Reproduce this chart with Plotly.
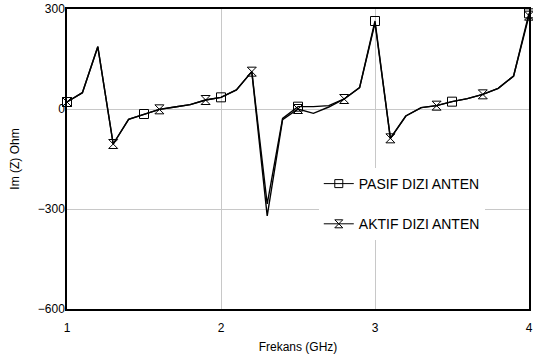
import plotly.graph_objects as go

freq = [1.0, 1.1, 1.2, 1.3, 1.4, 1.5, 1.6, 1.7, 1.8, 1.9, 2.0,
        2.1, 2.2, 2.3, 2.4, 2.5, 2.6, 2.7, 2.8, 2.9, 3.0,
        3.1, 3.2, 3.3, 3.4, 3.5, 3.6, 3.7, 3.8, 3.9, 4.0]
pasif = [21, 49, 187, -105, -31, -15, -1, 6, 13, 27, 35,
         57, 112, -285, -28, 7, 7, 10, 30, 64, 264,
         -88, -21, 4, 10, 22, 31, 44, 62, 99, 287]
aktif = [21, 49, 187, -105, -31, -15, -1, 6, 13, 27, 35,
         57, 112, -321, -32, 0, -13, 6, 30, 64, 258,
         -88, -21, 4, 10, 22, 31, 44, 62, 99, 280]
pasif_name = "PASIF DIZI ANTEN"
aktif_name = "AKTIF DIZI ANTEN"
x_ticks = [1, 2, 3, 4]
y_ticks = [300, 0, -300, -600]

pasif_marks = list(range(0, len(freq), 5))
aktif_marks = list(range(0, len(freq), 3))

fig = go.Figure()
for name, vals, marks, sym, grp in [
    (pasif_name, pasif, pasif_marks, "square-open", "a"),
    (aktif_name, aktif, aktif_marks, "hourglass-open", "b"),
]:
    fig.add_trace(go.Scatter(
        x=freq, y=vals, mode="lines", line=dict(color="black", width=1.4),
        showlegend=False, hoverinfo="skip", cliponaxis=False))
    fig.add_trace(go.Scatter(
        x=[freq[i] for i in marks], y=[vals[i] for i in marks],
        mode="markers", name=name, legendgroup=grp, cliponaxis=False,
        marker=dict(symbol=sym, size=9, color="black", line=dict(color="black", width=1)),
        showlegend=False))
    # legend proxy
    fig.add_trace(go.Scatter(
        x=[None], y=[None], mode="lines+markers", name=name, legendgroup=grp,
        line=dict(color="black", width=1),
        marker=dict(symbol=sym, size=8, color="black", line=dict(color="black", width=1))))

fig.update_layout(
    width=533, height=358,
    margin=dict(l=67, r=4, t=9, b=49),
    paper_bgcolor="white", plot_bgcolor="white",
    font=dict(family="Liberation Sans, Arial, sans-serif", size=12, color="black"),
    legend=dict(x=0.545, y=0.47, xanchor="left", yanchor="top",
                bgcolor="white", font=dict(size=14), tracegroupgap=19,
                itemwidth=30),
    xaxis=dict(range=[1, 4], tickvals=x_ticks, ticks="", showgrid=True,
               gridcolor="#c8c8c8", gridwidth=1, zeroline=False, automargin=False,
               ticklabelstandoff=7,
               showline=True, linecolor="black", linewidth=1.5, mirror=True,
               title=dict(text="Frekans (GHz)", standoff=8, font=dict(size=12))),
    yaxis=dict(range=[-600, 300], tickvals=y_ticks, ticks="", showgrid=True,
               gridcolor="#c8c8c8", gridwidth=1, zeroline=False, automargin=False,
               ticklabelstandoff=-2,
               showline=True, linecolor="black", linewidth=1.5, mirror=True,
               title=dict(text="Im (Z) Ohm", standoff=16, font=dict(size=12))),
)
fig.write_html("out.html", config={"displayModeBar": False},
               post_script="document.body.style.margin='0';")
